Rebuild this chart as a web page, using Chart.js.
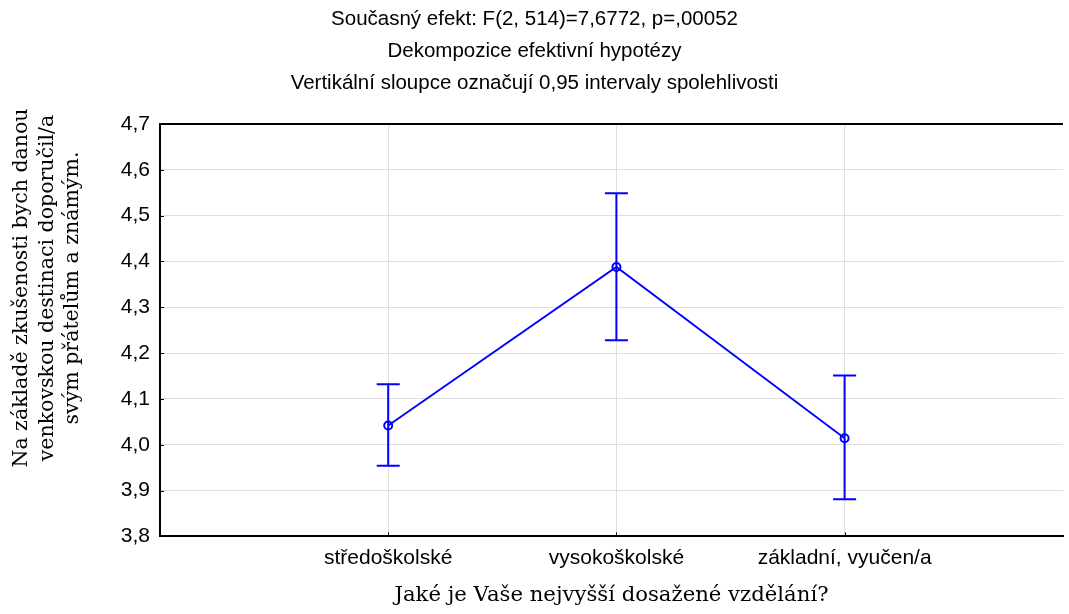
<!DOCTYPE html>
<html>
<head>
<meta charset="utf-8">
<script src="https://cdn.jsdelivr.net/npm/chart.js"></script>
<style>
    html, body { margin: 0; padding: 0; background: #fff; overflow: hidden; }
</style>
</head>
<body>
<canvas id="grafVzdelani" width="1069" height="614"></canvas>
<script>
var kategorie = ["středoškolské", "vysokoškolské", "základní, vyučen/a"];
var prumery = [4.042, 4.388, 4.014];
var dolniMez = [3.954, 4.228, 3.881];
var horniMez = [4.132, 4.549, 4.151];
var nadpis = [
    "Současný efekt: F(2, 514)=7,6772, p=,00052",
    "Dekompozice efektivní hypotézy",
    "Vertikální sloupce označují 0,95 intervaly spolehlivosti"
];
var popisY = [
    "Na základě zkušenosti bych danou",
    "venkovskou destinaci doporučil/a",
    "svým přátelům a známým."
];
var popisX = "Jaké je Vaše nejvyšší dosažené vzdělání?";

var pismoSans = "'Liberation Sans', Arial, sans-serif";
var pismoSerif = "'DejaVu Serif', 'Liberation Serif', serif";

// chybove useky, horni okraj, znacky na osach a popis osy y
var errorBarsPlugin = {
    id: "errorBars",
    afterDatasetsDraw: function (chart) {
        var ctx = chart.ctx;
        var x = chart.scales.x;
        var y = chart.scales.y;
        var area = chart.chartArea;

        ctx.save();
        ctx.strokeStyle = "#0000ff";
        ctx.lineWidth = 2;
        for (var i = 0; i < prumery.length; i++) {
            var px = x.getPixelForValue(i + 1);
            var top = y.getPixelForValue(horniMez[i]);
            var bottom = y.getPixelForValue(dolniMez[i]);
            ctx.beginPath();
            ctx.moveTo(px, top);
            ctx.lineTo(px, bottom);
            ctx.moveTo(px - 11.5, top);
            ctx.lineTo(px + 11.5, top);
            ctx.moveTo(px - 11.5, bottom);
            ctx.lineTo(px + 11.5, bottom);
            ctx.stroke();
        }

        ctx.strokeStyle = "#000";
        ctx.lineWidth = 2;
        ctx.beginPath();
        ctx.moveTo(area.left - 1, area.top);
        ctx.lineTo(area.right, area.top);
        ctx.stroke();

        ctx.lineWidth = 1;
        ctx.beginPath();
        for (var t = 0; t < y.ticks.length; t++) {
            var ty = Math.round(y.getPixelForTick(t)) + 0.5;
            ctx.moveTo(area.left, ty);
            ctx.lineTo(area.left + 4, ty);
        }
        for (var k = 0; k < x.ticks.length; k++) {
            var tx = Math.round(x.getPixelForTick(k)) + 0.5;
            ctx.moveTo(tx, area.bottom);
            ctx.lineTo(tx, area.bottom - 4);
        }
        ctx.stroke();

        // popis osy y, tri radky otocene o 90 stupnu
        ctx.fillStyle = "#000";
        ctx.font = "20.5px " + pismoSerif;
        ctx.textAlign = "center";
        ctx.textBaseline = "middle";
        ctx.translate(22, 288);
        ctx.rotate(-Math.PI / 2);
        for (var r = 0; r < popisY.length; r++) {
            ctx.fillText(popisY[r], 0, r * 25.5);
        }
        ctx.restore();
    }
};

function makeChart() {
    var platno = document.getElementById("grafVzdelani");

    var body = [];
    for (var i = 0; i < prumery.length; i++) {
        body.push({ x: i + 1, y: prumery[i] });
    }

    var dataPrumery = {
        data: body,
        borderColor: "#0000ff",
        borderWidth: 1.8,
        pointRadius: 4,
        pointBorderWidth: 2,
        pointBorderColor: "#0000ff",
        pointBackgroundColor: "rgba(0,0,0,0)",
        fill: false,
        tension: 0
    };

    new Chart(platno, {
        type: "line",
        data: {
            datasets: [dataPrumery]
        },
        options: {
            responsive: false,
            animation: false,
            devicePixelRatio: 1,
            layout: { padding: { left: 0, right: 0, top: 0, bottom: 6 } },
            plugins: {
                legend: { display: false },
                tooltip: { enabled: false },
                title: {
                    display: true,
                    text: nadpis,
                    color: "#000",
                    font: { family: pismoSans, size: 20.5, weight: "normal", lineHeight: 1.561 },
                    padding: { top: 3, bottom: 25 }
                }
            },
            scales: {
                x: {
                    type: "linear",
                    min: 0,
                    max: 3.957,
                    afterBuildTicks: function (scale) {
                        scale.ticks = kategorie.map(function (c, i) { return { value: i + 1 }; });
                    },
                    afterFit: function (scale) {
                        scale.paddingLeft = 0;
                        scale.paddingRight = 0;
                    },
                    grid: { drawTicks: false, color: "#dedede" },
                    border: { color: "#000", width: 2 },
                    ticks: {
                        color: "#000",
                        padding: 9,
                        maxRotation: 0,
                        autoSkip: false,
                        font: { family: pismoSans, size: 21 },
                        callback: function (v) {
                            return kategorie[v - 1];
                        }
                    },
                    title: {
                        display: true,
                        text: popisX,
                        color: "#000",
                        font: { family: pismoSerif, size: 21.2, lineHeight: 1.2 },
                        padding: { top: 3, bottom: 0 }
                    }
                },
                y: {
                    min: 3.8,
                    max: 4.7,
                    afterFit: function (scale) {
                        scale.width = 160;
                    },
                    grid: { drawTicks: false, color: "#dedede" },
                    border: { color: "#000", width: 2 },
                    ticks: {
                        stepSize: 0.1,
                        color: "#000",
                        padding: 10,
                        font: { family: pismoSans, size: 21 },
                        callback: function (v) {
                            return v.toFixed(1).replace(".", ",");
                        }
                    }
                }
            }
        },
        plugins: [errorBarsPlugin]
    });
}

document.addEventListener("DOMContentLoaded", makeChart);
</script>
</body>
</html>
